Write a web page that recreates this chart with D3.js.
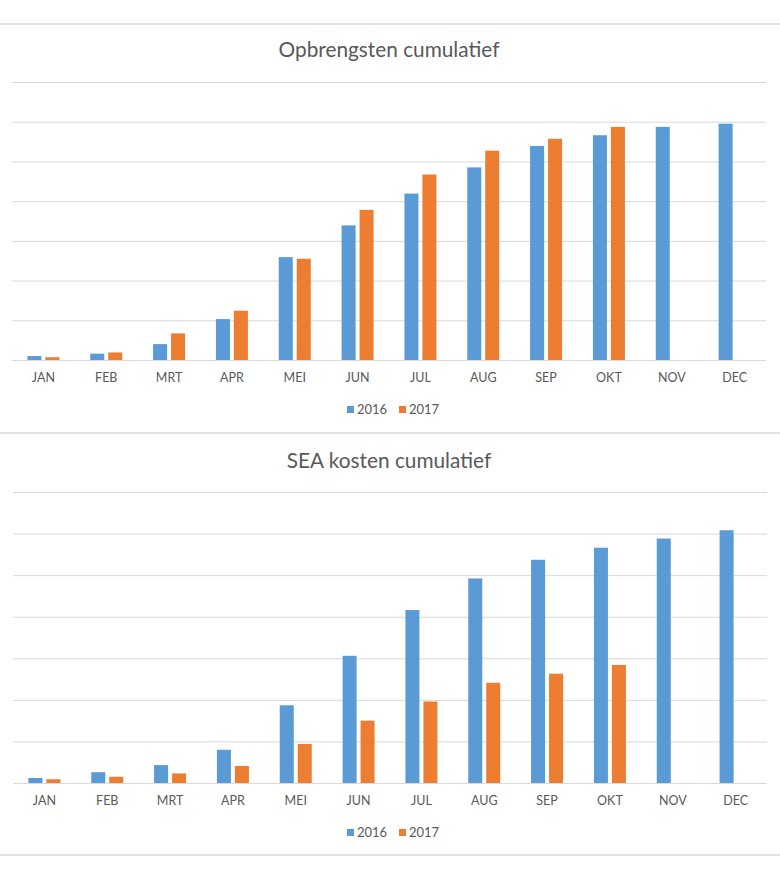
<!DOCTYPE html>
<html>
<head>
<meta charset="utf-8">
<script src="https://cdn.jsdelivr.net/npm/d3@7"></script>
<style>
  html, body { margin: 0; padding: 0; background: #ffffff; }
  svg { display: block; }
  text { font-family: Lato, "Open Sans", sans-serif; }
</style>
</head>
<body>
<svg id="chart" width="780" height="880"></svg>
<script>
// ---- data (in grid-line units) ----
const months = ["JAN","FEB","MRT","APR","MEI","JUN","JUL","AUG","SEP","OKT","NOV","DEC"];
const seriesNames = ["2016", "2017"];
const opbrengsten2016 = [0.10, 0.16, 0.40, 1.03, 2.59, 3.39, 4.19, 4.85, 5.39, 5.66, 5.87, 5.95];
const opbrengsten2017 = [0.07, 0.19, 0.67, 1.24, 2.55, 3.78, 4.67, 5.27, 5.57, 5.87, null, null];
const kosten2016 = [0.12, 0.26, 0.43, 0.80, 1.87, 3.06, 4.16, 4.92, 5.37, 5.66, 5.88, 6.08];
const kosten2017 = [0.09, 0.15, 0.23, 0.41, 0.94, 1.50, 1.96, 2.41, 2.63, 2.84, null, null];
const yTicks = [0, 1, 2, 3, 4, 5, 6, 7];
const titles = ["Opbrengsten cumulatief", "SEA kosten cumulatief"];

const colors = { "2016": "#5B9BD5", "2017": "#ED7D31" };
const textColor = "#595959";
const gridColor = "#D9D9D9";

const svg = d3.select("#chart");

// chart-area border lines
[24, 433, 855].forEach(y => {
  svg.append("line").attr("x1", 0).attr("x2", 780).attr("y1", y).attr("y2", y)
    .attr("stroke", "#D9D9D9").attr("stroke-width", 1.5);
});

function drawChart(cfg) {
  const g = svg.append("g");
  const x = d3.scaleBand().domain(months).range([cfg.left, cfg.right]).padding(0);
  const y = d3.scaleLinear().domain([0, 7]).range([cfg.bottom, cfg.top]);
  const inner = d3.scaleBand().domain(seriesNames).range([-16, 16]).paddingInner(0.22).paddingOuter(0);

  // title
  g.append("text").attr("x", 389).attr("y", cfg.titleY)
    .attr("text-anchor", "middle").attr("fill", textColor)
    .attr("font-size", 20.8).text(cfg.title);

  // gridlines
  const grid = g.append("g").attr("transform", `translate(${cfg.left},0)`)
    .call(d3.axisLeft(y).tickValues(yTicks).tickSize(-(cfg.right - cfg.left)).tickFormat(""));
  grid.select(".domain").remove();
  grid.selectAll(".tick line").attr("stroke", gridColor).attr("stroke-width", 1);

  // bars
  const data = [];
  months.forEach((m, i) => {
    seriesNames.forEach((s, j) => {
      const v = cfg.series[j][i];
      if (v != null) data.push({ m, s, v });
    });
  });
  g.append("g").selectAll("rect").data(data).join("rect")
    .attr("x", d => x(d.m) + x.bandwidth() / 2 + inner(d.s))
    .attr("width", inner.bandwidth())
    .attr("y", d => y(d.v))
    .attr("height", d => y(0) - y(d.v))
    .attr("fill", d => colors[d.s]);

  // x axis labels
  const xa = g.append("g").attr("transform", `translate(0,${cfg.bottom})`)
    .call(d3.axisBottom(x).tickSize(0).tickPadding(0));
  xa.select(".domain").remove();
  xa.selectAll(".tick text").attr("fill", textColor).attr("font-size", 12.5)
    .attr("font-family", "Lato, 'Open Sans', sans-serif")
    .attr("dy", null).attr("y", cfg.labelDy);

  // legend
  const lg = g.append("g").attr("transform", `translate(0,${cfg.legendY})`);
  const items = [{ s: "2016", x: 347 }, { s: "2017", x: 399 }];
  items.forEach(it => {
    lg.append("rect").attr("x", it.x).attr("y", -7.5).attr("width", 7).attr("height", 7)
      .attr("fill", colors[it.s]);
    lg.append("text").attr("x", it.x + 10).attr("y", 0).attr("fill", textColor)
      .attr("font-size", 13).text(it.s);
  });
}

drawChart({
  title: titles[0], titleY: 57,
  left: 12, right: 766, top: 82, bottom: 360,
  series: [opbrengsten2016, opbrengsten2017],
  labelDy: 22, legendY: 413.5
});
drawChart({
  title: titles[1], titleY: 468,
  left: 13, right: 767, top: 492, bottom: 783,
  series: [kosten2016, kosten2017],
  labelDy: 22, legendY: 836.5
});
</script>
</body>
</html>
